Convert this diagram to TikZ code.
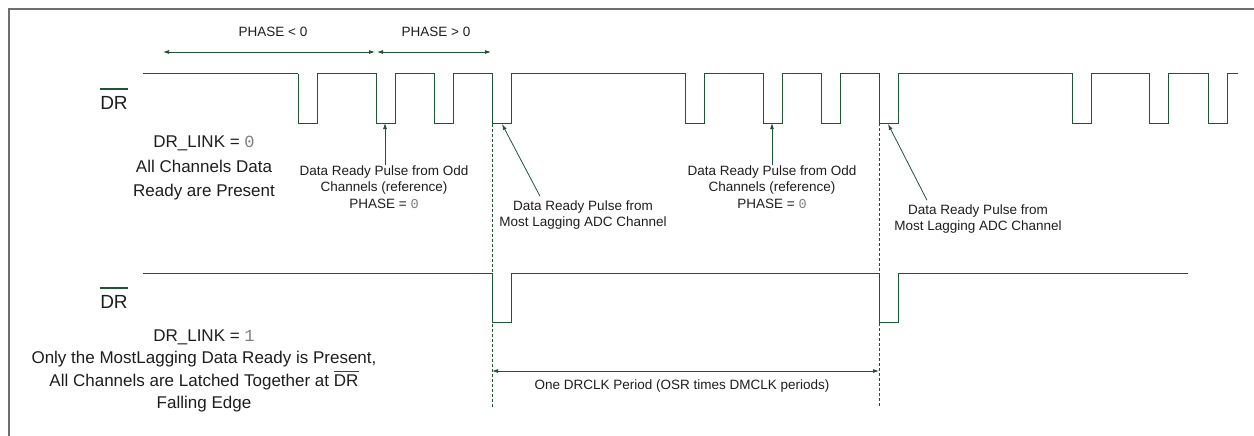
\documentclass[tikz,border=0pt]{standalone}
\usepackage{fontspec}
\setmainfont{Liberation Sans}
\newfontfamily\monof{Liberation Mono}
\usetikzlibrary{arrows.meta}
\definecolor{wg}{RGB}{30,85,55}
\definecolor{framec}{RGB}{110,110,110}
\definecolor{txt}{RGB}{30,30,30}
\definecolor{numg}{RGB}{125,125,125}
\newcommand\barDR[2]{\setbox0\hbox{DR}\rlap{\color{#1}\rule[#2]{\wd0}{0.06em}}\box0}
\begin{document}
\begin{tikzpicture}[x=1pt,y=-1pt,
  wave/.style={draw=wg, line width=1pt},
  lead/.style={draw=black!75, line width=1pt},
  ptr/.style={draw=wg, line width=0.8pt, -{Latex[length=6pt,width=4pt]}},
  dim/.style={draw=wg, line width=0.8pt, {Latex[length=6pt,width=4pt]}-{Latex[length=6pt,width=4pt]}},
  guide/.style={draw=wg, line width=0.8pt, dash pattern=on 3pt off 2pt},
  big/.style={font=\fontsize{17}{24.5}\selectfont, text=txt, align=center, inner sep=0pt},
  bigb/.style={font=\fontsize{17}{22.5}\selectfont, text=txt, align=center, inner sep=0pt},
  small/.style={font=\fontsize{13.5}{16.5}\selectfont, text=txt, align=center, inner sep=0pt},
  sig/.style={font=\fontsize{19}{22}\selectfont, text=txt, inner sep=0pt}]
\useasboundingbox (0,0) rectangle (1254,436);
\draw[framec, line width=1.5pt] (9,436) -- (9,9) -- (1254,9);

% signal labels
\node[sig] (dr1) at (114,99) {\barDR{wg}{1.05em}};
\node[sig] (dr2) at (114,298) {\barDR{wg}{1.05em}};

% top waveform
\draw[lead] (143,74) -- (298,74);
\draw[wave] (298,74) \foreach \x in {298,376,434,492,685,763,821,879,1072,1149,1208} { -- (\x,74) -- (\x,123) -- ++(19,0) -- ++(0,-49) } -- (1238,74);

% bottom waveform
\draw[lead] (143,273) -- (492,273);
\draw[wave] (492,273) -- (492,322) -- (511,322) -- (511,273) -- (879,273) -- (879,322) -- (898,322) -- (898,273);
\draw[lead] (898,273) -- (1188,273);

% guides
\coordinate (g1t) at (492,74);
\coordinate (g1b) at (492,407);
\coordinate (g2t) at (879,123);
\coordinate (g2b) at (879,407);
\draw[guide] (g1t) -- (g1b);
\draw[guide] (g2t) -- (g2b);

% phase dimension arrows
\coordinate (ph1) at (163,52);
\coordinate (ph2) at (375,52);
\coordinate (ph3) at (377,52);
\coordinate (ph4) at (491,52);
\draw[dim] (ph1) -- (ph2);
\draw[dim] (ph3) -- (ph4);
\node[small] (phl) at (273,32) {PHASE < 0};
\node[small] (phg) at (436,32) {PHASE > 0};

% period
\coordinate (pd1) at (492,371);
\coordinate (pd2) at (879,371);
\draw[dim] (pd1) -- (pd2);
\node[small] (per) at (682,386) {One DRCLK Period (OSR times DMCLK periods)};

% left descriptions
\node[big] (link0) at (204,168) {DR\_LINK = {\monof\color{numg}0}\\All Channels Data\\Ready are Present};
\node[bigb] (link1) at (204,371) {DR\_LINK = {\monof\color{numg}1}\\Only the MostLagging Data Ready is Present,\\All Channels are Latched Together at \barDR{wg}{0.85em}\\Falling Edge};

% pulse annotations
\coordinate (p1) at (385,123);
\coordinate (p2) at (772,123);
\coordinate (q1) at (502,124);
\coordinate (q2) at (888,124);
\node[small] (odd1) at (384,187) {Data Ready Pulse from Odd\\Channels (reference)\\PHASE = {\monof\color{numg}0}};
\node[small] (odd2) at (772,187) {Data Ready Pulse from Odd\\Channels (reference)\\PHASE = {\monof\color{numg}0}};
\node[small] (lag1) at (583,215) {Data Ready Pulse from\\Most Lagging ADC Channel};
\node[small] (lag2) at (978,219) {Data Ready Pulse from\\Most Lagging ADC Channel};
\draw[ptr] (odd1.north -| p1) -- (p1);
\draw[ptr] (odd2.north -| p2) -- (p2);
\draw[ptr] ([xshift=-43pt,yshift=4pt]lag1.north) -- (q1);
\draw[ptr] ([xshift=-51pt,yshift=4pt]lag2.north) -- (q2);
\end{tikzpicture}
\end{document}
